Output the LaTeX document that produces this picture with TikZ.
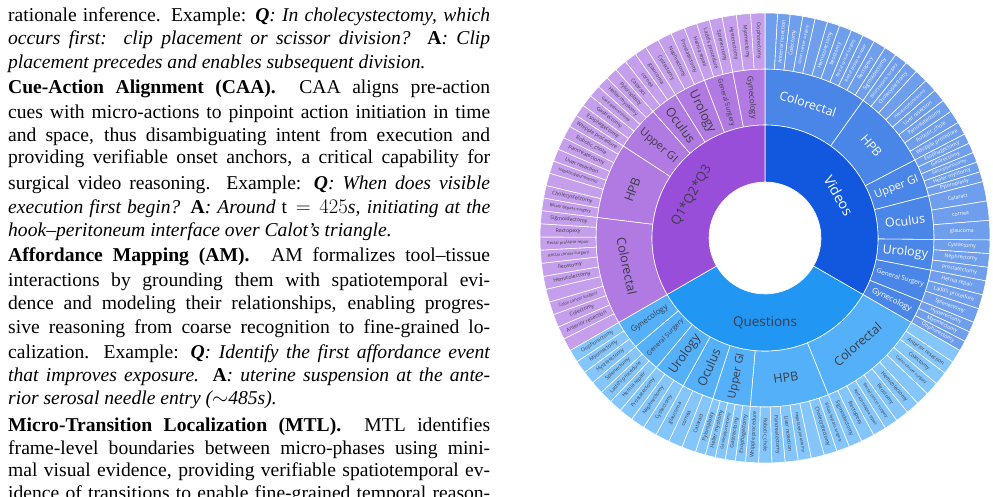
\documentclass[tikz,border=0pt]{standalone}
\usepackage{fontspec}
\setmainfont{Liberation Serif}
\newfontfamily\chartfont{Open Sans}
\definecolor{vIn}{RGB}{18,88,222}
\definecolor{vMid}{RGB}{74,134,232}
\definecolor{vOut}{RGB}{110,158,236}
\definecolor{pIn}{RGB}{152,78,216}
\definecolor{pMid}{RGB}{176,122,226}
\definecolor{pOut}{RGB}{197,158,236}
\definecolor{qIn}{RGB}{33,150,243}
\definecolor{qMid}{RGB}{85,176,250}
\definecolor{qOut}{RGB}{132,198,252}
\definecolor{dtext}{RGB}{60,60,70}
\newcommand\sm{\fontsize{4.1}{4.2}\selectfont}
\expandafter\def\csname leaves0\endcsname{{},Anterior resection,Colectomy,{\sm Colon cancer surgery},{},Hemicolectomy,Ileostomy,{\sm Rectal cancer surgery},{\sm Rectal prolapse repair},Rectopexy,Sigmoidectomy}
\expandafter\def\csname leaves1\endcsname{{\sm Biliary bypass surgery},Cholecystectomy,{},{\sm Hepaticojejunostomy},Liver resection,Pancreatectomy,Robotic\_chole,Whipple procedure}
\expandafter\def\csname leaves2\endcsname{Esophagectomy,Gastrectomy,{\sm Gastrojejunostomy},Heller myotomy,Pyloroplasty}
\expandafter\def\csname leaves3\endcsname{Cataract,cornea,glaucoma}
\expandafter\def\csname leaves4\endcsname{Cystectomy,Nephrectomy,Prostatectomy}
\expandafter\def\csname leaves5\endcsname{Hernia repair,Ladd's procedure,Splenectomy}
\expandafter\def\csname leaves6\endcsname{Hysterectomy,Myomectomy,Oophorectomy}
\newcommand\wedgeshape[5]{%
  \filldraw[fill=#5,draw=white,line width=0.6pt] (#1:#3pt) -- (#1:#4pt)
   arc[start angle=#1,end angle=#2,radius=#4pt] -- (#2:#3pt)
   arc[start angle=#2,end angle=#1,radius=#3pt] -- cycle;}
\newcommand\normrot[1]{%
  \pgfmathsetmacro\rr{mod(#1+540,360)-180}%
  \pgfmathsetmacro\rr{\rr>90 ? \rr-180 : (\rr<-90 ? \rr+180 : \rr)}}
\newcommand\sector[8]{%
  \xdef\cur{#1}%
  \foreach \cn/\nl/\fs/\md [count=\ci from 0] in {Colorectal/11/12.5/1,HPB/8/12.5/1,Upper GI/5/11/0,Oculus/3/12.5/0,Urology/3/12.5/0,General Surgery/3/6.5/0,Gynecology/3/8/0}{%
    \pgfmathsetmacro\sp{{#2}[\ci]}%
    \pgfmathsetmacro\aend{\cur-\sp}%
    \wedgeshape{\cur}{\aend}{113}{169}{#4}%
    \pgfmathsetmacro\mm{(\cur+\aend)/2}%
    \pgfmathsetmacro\rbase{\md==1 ? \mm-90 : \mm}%
    \normrot{\rbase}%
    \node[rotate=\rr,text=#6,font=\chartfont\fontsize{\fs}{\fs}\selectfont] at (\mm:141pt) {\cn};
    \pgfmathsetmacro\lw{\sp/\nl}%
    \expandafter\let\expandafter\curleaves\csname leaves\ci\endcsname
    \foreach \ln [count=\li from 0] in \curleaves {%
      \pgfmathsetmacro\la{\cur-\li*\lw}%
      \pgfmathsetmacro\lb{\la-\lw}%
      \wedgeshape{\la}{\lb}{169}{225}{#5}%
      \pgfmathsetmacro\lm{\la-\lw/2}%
      \normrot{\lm}%
      \node[rotate=\rr,text=#6,inner sep=0.5pt,font=\chartfont\fontsize{5.2}{5.4}\selectfont] at (\lm:197pt) {\ln};
    }%
    \xdef\cur{\aend}%
  }%
  \pgfmathsetmacro\se{#1-120}%
  \wedgeshape{#1}{\se}{56}{113}{#3}%
  \pgfmathsetmacro\mm{#1-60}%
  \normrot{\mm-90}%
  \node[rotate=\rr,text=#6,font=\chartfont\fontsize{#8}{#8}\selectfont] at (\mm:85pt) {#7};
}
\newcommand\jl[2]{\node[anchor=base west,inner sep=0] at (8,-#1) {\makebox[482pt][s]{#2}};}
\newcommand\nl[2]{\node[anchor=base west,inner sep=0] at (8,-#1) {#2};}
\begin{document}
\begin{tikzpicture}[x=1pt,y=1pt]
\useasboundingbox (0,0) rectangle (993,-496);
\clip (0,0) rectangle (993,-496);
\fill[white] (0,0) rectangle (993,-496);
\begin{scope}[font=\fontsize{19.6}{23}\selectfont]
\jl{21}{rationale inference. Example: \textbf{\textit{Q}}\textit{: In cholecystectomy, which}}
\jl{44}{\textit{occurs first:\ \ clip placement or scissor division?\ \ }\textbf{A}\textit{: Clip}}
\nl{68}{\textit{placement precedes and enables subsequent division.}}
\jl{93}{\textbf{Cue-Action Alignment (CAA).}\hspace{0.6em} CAA aligns pre-action}
\jl{118}{cues with micro-actions to pinpoint action initiation in time}
\jl{141}{and space, thus disambiguating intent from execution and}
\jl{163}{providing verifiable onset anchors, a critical capability for}
\jl{189}{surgical video reasoning.\ \ Example: \textbf{\textit{Q}}\textit{: When does visible}}
\jl{213}{\textit{execution first begin? }\textbf{A}\textit{: Around }$\mathrm{t}=425$\textit{s, initiating at the}}
\nl{236}{\textit{hook--peritoneum interface over Calot's triangle.}}
\jl{261}{\textbf{Affordance Mapping (AM).}\hspace{0.6em} AM formalizes tool--tissue}
\jl{286}{interactions by grounding them with spatiotemporal evi-}
\jl{309}{dence and modeling their relationships, enabling progres-}
\jl{333}{sive reasoning from coarse recognition to fine-grained lo-}
\jl{358}{calization. Example: \textbf{\textit{Q}}\textit{: Identify the first affordance event}}
\jl{381}{\textit{that improves exposure. }\textbf{A}\textit{: uterine suspension at the ante-}}
\nl{404}{\textit{rior serosal needle entry ($\sim$485s).}}
\jl{431}{\textbf{Micro-Transition Localization (MTL).}\hspace{0.6em} MTL identifies}
\jl{454}{frame-level boundaries between micro-phases using mini-}
\jl{476}{mal visual evidence, providing verifiable spatiotemporal ev-}
\jl{499}{idence of transitions to enable fine-grained temporal reason-}
\end{scope}
\begin{scope}[shift={(765,-238)}]
\sector{90}{35.5,27,13,15,10.5,11,8}{vIn}{vMid}{vOut}{white}{Videos}{14}
\sector{330}{38,27,13,11,11,10,10}{qIn}{qMid}{qOut}{dtext}{Questions}{13.5}
\sector{210}{37,26,15.5,9.5,11,10,11}{pIn}{pMid}{pOut}{dtext}{Q1*Q2*Q3}{13}
\end{scope}
\end{tikzpicture}
\end{document}
